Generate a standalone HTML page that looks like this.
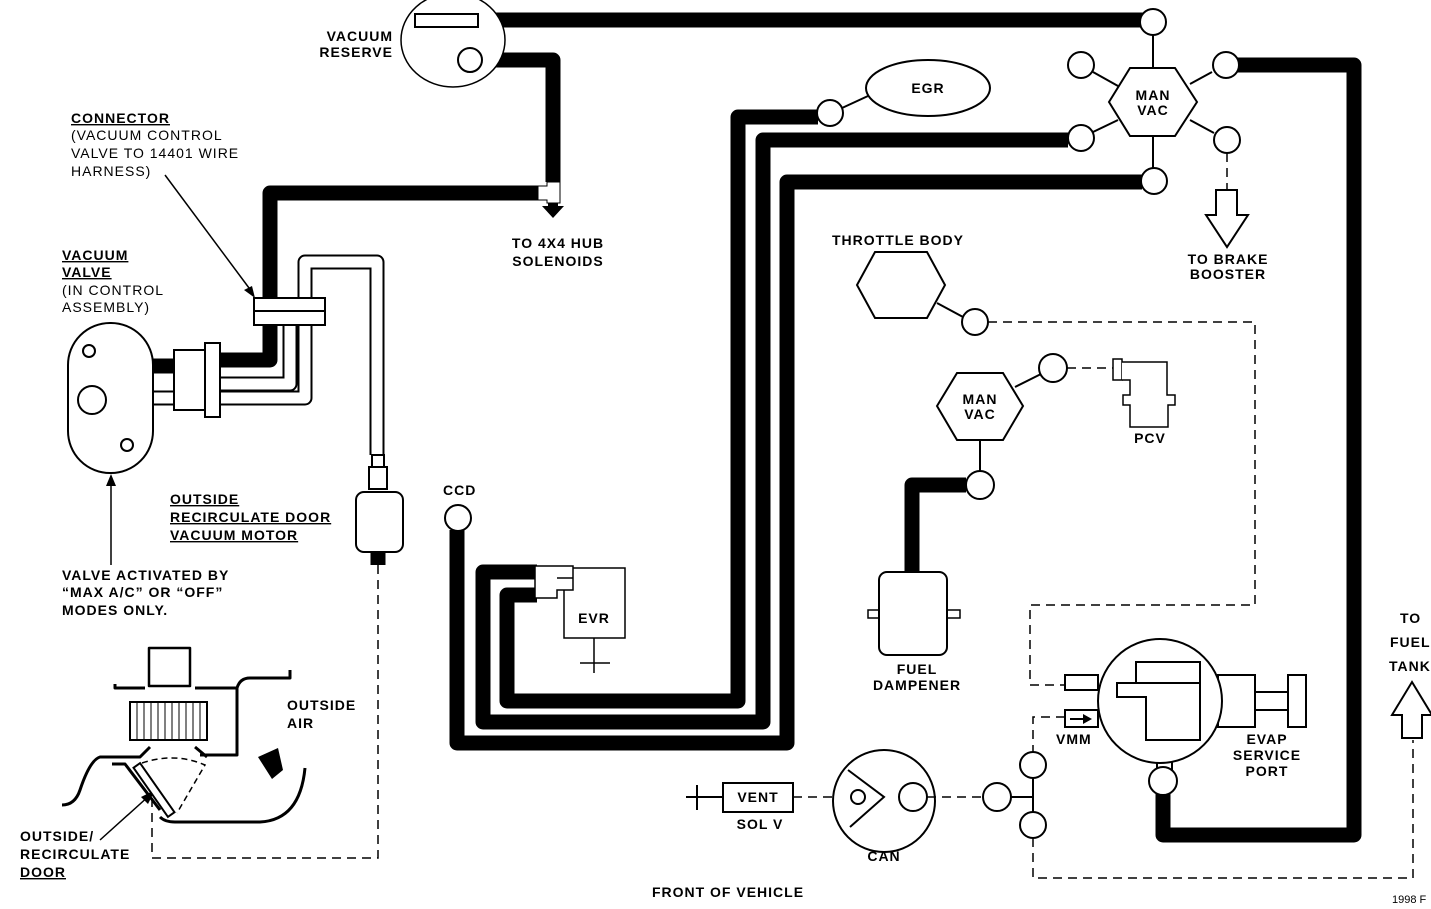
<!DOCTYPE html>
<html><head><meta charset="utf-8"><style>
html,body{margin:0;padding:0;background:#fff}
svg{display:block}
text{font-family:"Liberation Sans",Arial,sans-serif;font-weight:bold;font-size:14px;letter-spacing:1px;fill:#000}
</style></head><body>
<svg width="1431" height="909" viewBox="0 0 1431 909" xmlns="http://www.w3.org/2000/svg">
<g fill="none" stroke="#000" stroke-linejoin="round">
<g stroke-width="15">
<path d="M478,20 H1150"/>
<path d="M480,60 H553 V182"/>
<path d="M538,193 H270 V360 H215"/>
<path d="M1235,65 H1354 V835 H1163 V790"/>
<path d="M818,117 H738 V701 H507 V595 H537"/>
<path d="M1068,140 H763 V722 H483 V572 H537"/>
<path d="M1142,182 H787 V743 H457 V530"/>
<path d="M966,485 H912 V572"/>
<path d="M117,398 L145,366 H175"/>
<path d="M378,495 V565"/>
</g>
<g stroke-width="15"><path d="M143,398 H305 V262 H377 V455"/><path d="M220,384 H290 V300"/></g>
<g stroke-width="11" stroke="#fff"><path d="M143,398 H305 V262 H377 V455"/><path d="M220,384 H290 V300"/></g>
</g>
<g fill="#fff" stroke="#000" stroke-width="2">
<ellipse cx="453" cy="40" rx="52" ry="47" stroke-width="1.5"/>
<rect x="415" y="14" width="63" height="13"/>
<circle cx="470" cy="60" r="12"/>
<path d="M538,186 H547 V182 H560 V203 H547 V200 H538 Z" stroke-width="1"/>
<rect x="68" y="323" width="85" height="150" rx="42"/>
<circle cx="89" cy="351" r="6"/><circle cx="92" cy="400" r="14"/><circle cx="127" cy="445" r="6"/>
<rect x="174" y="350" width="31" height="60"/><rect x="205" y="343" width="15" height="74"/>
<rect x="254" y="298" width="71" height="27"/><line x1="254" y1="311" x2="325" y2="311"/>
<rect x="372" y="455" width="12" height="12"/><rect x="369" y="467" width="18" height="22"/>
<rect x="356" y="492" width="47" height="60" rx="8"/>
<ellipse cx="928" cy="88" rx="62" ry="28"/>
<line x1="842" y1="108" x2="868" y2="96"/>
<circle cx="830" cy="113" r="13"/>
<line x1="1153" y1="35" x2="1153" y2="68"/><line x1="1093" y1="72" x2="1118" y2="86"/><line x1="1212" y1="72" x2="1190" y2="84"/>
<line x1="1093" y1="132" x2="1118" y2="120"/><line x1="1214" y1="133" x2="1190" y2="120"/><line x1="1153" y1="136" x2="1153" y2="168"/>
<polygon points="1109,102 1130,68 1175,68 1197,102 1175,136 1130,136"/>
<circle cx="1153" cy="22" r="13"/><circle cx="1081" cy="65" r="13"/><circle cx="1226" cy="65" r="13"/>
<circle cx="1081" cy="138" r="13"/><circle cx="1227" cy="140" r="13"/><circle cx="1154" cy="181" r="13"/>
<polygon points="1216,190 1237,190 1237,215 1248,215 1227,247 1206,215 1216,215"/>
<polygon points="857,285 875,252 927,252 945,285 927,318 875,318"/>
<line x1="937" y1="303" x2="963" y2="317"/>
<circle cx="975" cy="322" r="13"/>
<line x1="1015" y1="387" x2="1041" y2="374"/><line x1="980" y1="440" x2="980" y2="472"/>
<polygon points="937,406 957,373 1003,373 1023,406 1003,440 957,440"/>
<circle cx="1053" cy="368" r="14"/><circle cx="980" cy="485" r="14"/>
<rect x="1113" y="359" width="9" height="21" stroke-width="1.5"/>
<path d="M1122,362 H1167 V395 H1175 V405 H1168 V427 H1130 V405 H1123 V395 H1130 V380 H1122" stroke-width="1.5"/>
<rect x="868" y="610" width="92" height="8" stroke-width="1.5"/>
<rect x="879" y="572" width="68" height="83" rx="8"/>
<rect x="564" y="568" width="61" height="70" stroke-width="1.5"/>
<path d="M535,566 H573 V590 H557 V598 H535 Z" stroke-width="1.5"/>
<line x1="557" y1="578" x2="573" y2="578" stroke-width="1.5"/>
<line x1="594" y1="638" x2="594" y2="673" stroke-width="1.5"/><line x1="580" y1="663" x2="610" y2="663" stroke-width="1.5"/>
<circle cx="458" cy="518" r="13"/>
<rect x="1065" y="675" width="33" height="15"/><rect x="1065" y="710" width="33" height="17"/>
<rect x="1218" y="675" width="37" height="52"/><rect x="1255" y="692" width="35" height="18"/><rect x="1288" y="675" width="18" height="52"/>
<rect x="1157" y="738" width="15" height="35"/>
<circle cx="1160" cy="701" r="62"/>
<path d="M1136,662 H1200 V740 H1146 V697 H1117 V683 H1136 Z"/>
<path d="M1136,683 H1200" />
<circle cx="1163" cy="781" r="14"/>
<rect x="723" y="783" width="70" height="29"/>
<circle cx="884" cy="801" r="51"/>
<polyline points="848,770 884,797 850,827" fill="none"/>
<circle cx="858" cy="797" r="7"/><circle cx="913" cy="797" r="14"/>
<line x1="1011" y1="797" x2="1033" y2="797"/><line x1="1033" y1="752" x2="1033" y2="838"/>
<circle cx="997" cy="797" r="14"/><circle cx="1033" cy="765" r="13"/><circle cx="1033" cy="825" r="13"/>
<line x1="686" y1="797" x2="723" y2="797"/><line x1="697" y1="785" x2="697" y2="810"/>
<polygon points="1412,682 1432,715 1422,715 1422,738 1402,738 1402,715 1392,715"/>
</g>
<path d="M1070,718 H1083 V714 L1092,719 L1083,724 V720 H1070 Z" fill="#000"/>
<g fill="none" stroke="#000" stroke-width="1.5" stroke-dasharray="9,6">
<path d="M378,565 V858 H152 V790"/>
<path d="M988,322 H1255 V605 H1030 V685 H1065"/>
<path d="M1065,717 H1033 V752"/>
<path d="M1033,838 V878 H1413 V740"/>
<path d="M1067,368 H1113"/>
<path d="M1227,153 V190"/>
<path d="M793,797 H832"/><path d="M927,797 H983"/>
<path d="M142,763 Q175,752 205,765 L177,813" stroke-dasharray="6,4"/>
</g>
<g stroke="#000" stroke-width="1.5" fill="none">
<line x1="165" y1="175" x2="252" y2="292"/>
<line x1="111" y1="565" x2="111" y2="480"/>
<line x1="100" y1="840" x2="150" y2="795"/>
</g>
<polygon points="255,298 244,290 252,286" fill="#000"/>
<polygon points="111,474 106,486 116,486" fill="#000"/>
<polygon points="155,790 141,797 148,804" fill="#000"/>
<polygon points="548,203 558,203 558,206 564,206 553,218 542,206 548,206" fill="#000"/>
<g fill="none" stroke="#000" stroke-width="3" stroke-linejoin="round">
<rect x="149" y="648" width="41" height="38" stroke-width="2.5"/>
<path d="M115,684 V688 H145 M195,688 H237 Q240,678 250,678 H290 V670"/>
<path d="M237,688 V755 H200"/>
<path d="M150,747 L140,757 H100 Q90,760 80,790 Q75,805 62,805"/>
<path d="M195,747 L207,757"/>
<path d="M112,764 H125 L160,810"/>
<path d="M160,817 Q165,822 175,822 H260 Q300,820 305,768"/>
</g>
<rect x="130" y="702" width="77" height="38" fill="#fff" stroke="#000" stroke-width="2"/>
<path d="M137,702V740M144,702V740M151,702V740M158,702V740M165,702V740M172,702V740M179,702V740M186,702V740M193,702V740M200,702V740" stroke="#000" stroke-width="1"/>
<rect x="150" y="760" width="8" height="60" transform="rotate(-35 154 790)" fill="#fff" stroke="#000" stroke-width="2"/>
<polygon points="258,757 278,748 283,770 272,779" fill="#000"/>
<g>
<text x="393" y="41" text-anchor="end">VACUUM</text>
<text x="393" y="57" text-anchor="end">RESERVE</text>
<text x="71" y="123" text-decoration="underline">CONNECTOR</text>
<text x="71" y="140" style="font-weight:normal">(VACUUM CONTROL</text>
<text x="71" y="158" style="font-weight:normal">VALVE TO 14401 WIRE</text>
<text x="71" y="176" style="font-weight:normal">HARNESS)</text>
<text x="62" y="260" text-decoration="underline">VACUUM</text>
<text x="62" y="277" text-decoration="underline">VALVE</text>
<text x="62" y="295" style="font-weight:normal">(IN CONTROL</text>
<text x="62" y="312" style="font-weight:normal">ASSEMBLY)</text>
<text x="170" y="504" text-decoration="underline">OUTSIDE</text>
<text x="170" y="522" text-decoration="underline">RECIRCULATE DOOR</text>
<text x="170" y="540" text-decoration="underline">VACUUM MOTOR</text>
<text x="62" y="580">VALVE ACTIVATED BY</text>
<text x="62" y="597">“MAX A/C” OR “OFF”</text>
<text x="62" y="615">MODES ONLY.</text>
<text x="287" y="710">OUTSIDE</text>
<text x="287" y="728">AIR</text>
<text x="20" y="841">OUTSIDE/</text>
<text x="20" y="859">RECIRCULATE</text>
<text x="20" y="877" text-decoration="underline">DOOR</text>
<text x="443" y="495">CCD</text>
<text x="558" y="248" text-anchor="middle">TO 4X4 HUB</text>
<text x="558" y="266" text-anchor="middle">SOLENOIDS</text>
<text x="928" y="93" text-anchor="middle">EGR</text>
<text x="1153" y="100" text-anchor="middle">MAN</text>
<text x="1153" y="115" text-anchor="middle">VAC</text>
<text x="1228" y="264" text-anchor="middle">TO BRAKE</text>
<text x="1228" y="279" text-anchor="middle">BOOSTER</text>
<text x="832" y="245">THROTTLE BODY</text>
<text x="980" y="404" text-anchor="middle">MAN</text>
<text x="980" y="419" text-anchor="middle">VAC</text>
<text x="1150" y="443" text-anchor="middle">PCV</text>
<text x="917" y="674" text-anchor="middle">FUEL</text>
<text x="917" y="690" text-anchor="middle">DAMPENER</text>
<text x="594" y="623" text-anchor="middle">EVR</text>
<text x="758" y="802" text-anchor="middle">VENT</text>
<text x="760" y="829" text-anchor="middle">SOL V</text>
<text x="884" y="861" text-anchor="middle">CAN</text>
<text x="1056" y="744">VMM</text>
<text x="1267" y="744" text-anchor="middle">EVAP</text>
<text x="1267" y="760" text-anchor="middle">SERVICE</text>
<text x="1267" y="776" text-anchor="middle">PORT</text>
<text x="1400" y="623">TO</text>
<text x="1390" y="647">FUEL</text>
<text x="1389" y="671">TANK</text>
<text x="728" y="897" text-anchor="middle">FRONT OF VEHICLE</text>
<text x="1392" y="903" style="font-weight:normal;font-size:11px;letter-spacing:0">1998 F</text>
</g>
</svg>
</body></html>
